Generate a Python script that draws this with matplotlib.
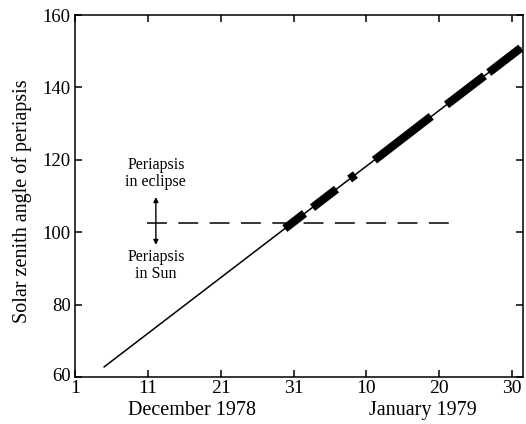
import numpy as np
import matplotlib
matplotlib.use("Agg")
import matplotlib.pyplot as plt
import matplotlib.transforms as mtransforms

plt.rcParams['font.family'] = ['Liberation Serif', 'DejaVu Serif']

# day count from 1 Dec 1978 (Jan 10 -> 41)
tick_days = [1, 11, 21, 31, 41, 51, 61]
tick_labels = ['1', '11', '21', '31', '10', '20', '30']
y_ticks = [60, 80, 100, 120, 140, 160]

# thin trend line of periapsis zenith angle
line_days = [5.0, 62.2]
line_angle = [62.8, 150.9]

# thick pieces along the line (eclipse periods)
seg_start_day = [29.8, 33.6, 38.7, 42.1, 52.0, 57.8]
seg_end_day = [32.5, 36.9, 39.5, 49.9, 57.2, 62.2]
seg_start_angle = [101.0, 106.8, 114.7, 119.9, 135.2, 144.1]
seg_end_angle = [105.2, 111.9, 115.9, 132.0, 143.2, 150.9]

# eclipse boundary
bound_days = [10.9, 53.1]
bound_angle = 102.5

fig = plt.figure(figsize=(5.26, 4.24), dpi=100)
ax = fig.add_axes([0.1426, 0.1108, 0.8517, 0.8538])

ax.plot(line_days, line_angle, color='black', lw=1.1)
for d0, d1, a0, a1 in zip(seg_start_day, seg_end_day, seg_start_angle, seg_end_angle):
    ax.plot([d0, d1], [a0, a1], color='black', lw=6, solid_capstyle='butt')

ax.plot(bound_days, [bound_angle, bound_angle], color='black', lw=1.1,
        dashes=(13, 7.5), dash_capstyle='butt')

# double arrow + labels
arr_x = 12.1
for tip in (109.7, 96.5):
    ax.annotate('', xy=(arr_x, tip), xytext=(arr_x, bound_angle),
                arrowprops=dict(arrowstyle='-|>', color='black', lw=1.0,
                                mutation_scale=7, shrinkA=0, shrinkB=0))
ax.text(arr_x, 116.2, 'Periapsis\nin eclipse', ha='center', va='center',
        fontsize=11.5, linespacing=1.15)
ax.text(arr_x, 90.8, 'Periapsis\nin Sun', ha='center', va='center',
        fontsize=11.5, linespacing=1.15)

ax.set_xlim(1, 62.5)
ax.set_ylim(60, 160)
ax.set_xticks(tick_days)
ax.set_xticklabels(tick_labels)
ax.set_yticks(y_ticks)
ax.tick_params(direction='in', length=5, width=1.1, labelsize=14,
               top=True, right=True)
ax.tick_params(axis='x', pad=2)
ax.tick_params(axis='y', pad=3, labelsize=13.5)
for s in ax.spines.values():
    s.set_linewidth(1.1)

# nudge the bottom "60" up a little so it clears the "1"
lab60 = ax.get_yticklabels()[0]
lab60.set_transform(lab60.get_transform() +
                    mtransforms.ScaledTranslation(0, 2 / 72, fig.dpi_scale_trans))

ax.set_ylabel('Solar zenith angle of periapsis', fontsize=14.5)
ax.yaxis.set_label_coords(-0.095, 0.485)

trans = mtransforms.blended_transform_factory(ax.transData, fig.transFigure)
ax.text(17, 0.033, 'December 1978', transform=trans, ha='center', va='center', fontsize=14.5)
ax.text(48.7, 0.033, 'January 1979', transform=trans, ha='center', va='center', fontsize=14.5)

fig.savefig('out.png', dpi=100)
